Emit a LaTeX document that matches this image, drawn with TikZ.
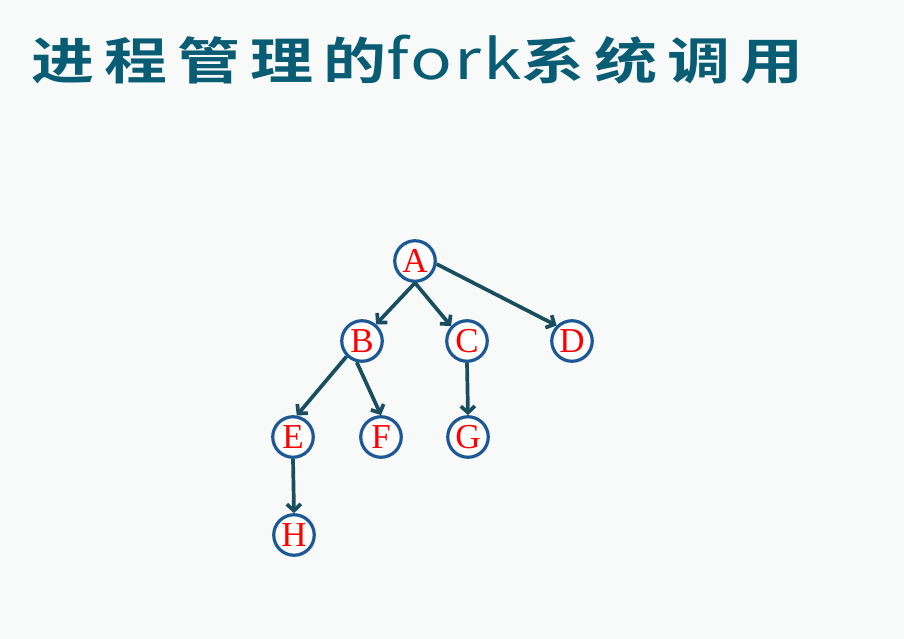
\documentclass[tikz,border=0pt]{standalone}
\usepackage{fontspec}
\setmainfont{Liberation Serif}
\newfontfamily\cjk{Noto Sans CJK SC Bold}
\newfontfamily\cjkr{Noto Sans CJK SC}
\usetikzlibrary{arrows.meta}
\definecolor{bgc}{RGB}{248,249,249}
\definecolor{titlec}{RGB}{8,92,115}
\definecolor{edgec}{RGB}{24,78,96}
\definecolor{circc}{RGB}{28,88,150}
\tikzset{
  proc/.style={circle, draw=circc, line width=3.2pt, fill=white, minimum size=40.5pt, inner sep=0pt,
    text=red, font=\fontsize{35}{35}\selectfont},
  edge/.style={draw=edgec, line width=3.7pt, -{Straight Barb[length=6.5pt,width=14pt,line width=3.7pt]}}
}
\begin{document}
\begin{tikzpicture}[x=1pt,y=-1pt]
\fill[bgc] (0,0) rectangle (904,639);
\useasboundingbox (0,0) rectangle (904,639);
\node[anchor=base west, inner sep=0pt, text=titlec, xscale=1.26, font=\cjk\fontsize{50}{50}\selectfont] (title) at (31,80)
  {{\addfontfeature{LetterSpace=16}进程管理的}{\cjkr\fontsize{55}{55}\selectfont\addfontfeature{LetterSpace=3}fork}{\addfontfeature{LetterSpace=16}系统调用}};
\node[proc] (A) at (415,261) {A};
\node[proc] (B) at (362,341) {B};
\node[proc] (C) at (467,341) {C};
\node[proc] (D) at (572,341) {D};
\node[proc] (E) at (293,437) {E};
\node[proc] (F) at (381,437) {F};
\node[proc] (G) at (468,437) {G};
\node[proc] (H) at (294,535) {H};
\draw[edge] (A.south) -- (B.50);
\draw[edge] (A.south) -- (C.137);
\draw[edge] (A.-8) -- (D.135);
\draw[edge] (B.225) -- (E.80);
\draw[edge] (B.256) -- (F.90);
\draw[edge] (C.south) -- (G.north);
\draw[edge] (E.south) -- (H.north);
\end{tikzpicture}
\end{document}
